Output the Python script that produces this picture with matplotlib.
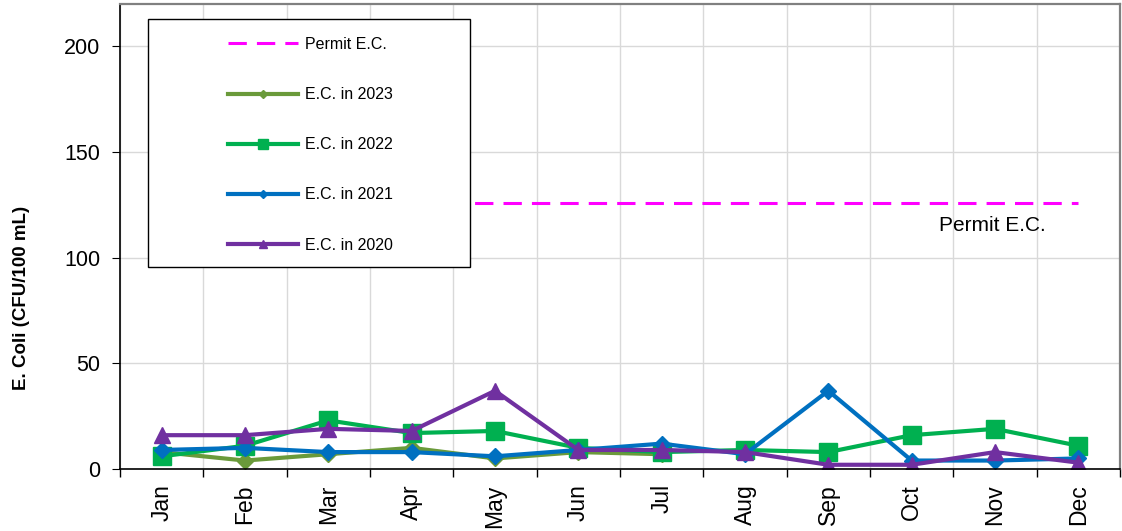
import numpy as np
import matplotlib.pyplot as plt
from matplotlib.patches import Rectangle

plt.rcParams['font.family'] = ['Liberation Sans', 'DejaVu Sans']

months = ['Jan', 'Feb', 'Mar', 'Apr', 'May', 'Jun', 'Jul', 'Aug', 'Sep', 'Oct', 'Nov', 'Dec']
permit = [126] * 12
ec_2023 = [8, 4, 7, 10, 5, 8, 7]
ec_2022 = [6, 11, 23, 17, 18, 10, 8, 9, 8, 16, 19, 11]
ec_2021 = [9, 10, 8, 8, 6, 9, 12, 7, 37, 4, 4, 5]
ec_2020 = [16, 16, 19, 18, 37, 9, 9, 8, 2, 2, 8, 3]

x = np.arange(len(months))

fig = plt.figure(figsize=(11.22, 5.31), dpi=100)
ax = fig.add_axes([120 / 1122, 1 - 469 / 531, 1000 / 1122, 465 / 531])

ax.plot(x, permit, color='#FF00FF', lw=2.2, ls=(0, (6, 3.3)), label='Permit E.C.')
ax.plot(x[:len(ec_2023)], ec_2023, color='#6A9A3A', lw=3, marker='D', ms=8, label='E.C. in 2023')
ax.plot(x, ec_2022, color='#00B050', lw=3, marker='s', ms=13, label='E.C. in 2022')
ax.plot(x, ec_2021, color='#0070C0', lw=3, marker='D', ms=8, label='E.C. in 2021')
ax.plot(x, ec_2020, color='#7030A0', lw=3, marker='^', ms=11, label='E.C. in 2020')

ax.text(9.33, 115, 'Permit E.C.', fontsize=15, ha='left', va='center')

ax.set_xlim(-0.5, 11.5)
ax.set_ylim(0, 220)
ax.set_yticks([0, 50, 100, 150, 200])
ax.set_xticks(x)
ax.set_xticklabels(months, rotation=90, fontsize=16.5)
ax.set_xticks(np.arange(-0.5, 12, 1), minor=True)
ax.tick_params(axis='x', which='major', length=0, pad=11)
ax.tick_params(axis='x', which='minor', length=6, direction='out', width=1)
ax.tick_params(axis='y', labelsize=15.5, length=6, direction='out', pad=8)
ax.grid(True, axis='x', which='minor', color='#D9D9D9', lw=1)
ax.grid(True, axis='y', which='major', color='#D9D9D9', lw=1)
ax.set_axisbelow(True)

for s in ['top', 'right']:
    ax.spines[s].set_color('#808080')
    ax.spines[s].set_linewidth(1.6)
ax.spines['left'].set_linewidth(1.2)
ax.spines['bottom'].set_linewidth(1.2)

ax.set_ylabel('E. Coli (CFU/100 mL)', fontsize=13.5, fontweight='bold')
ax.yaxis.set_label_coords(-0.09, 0.368)

# legend box (drawn separately so the entries can sit off-centre like the original)
box = Rectangle((0.028, 0.434), 0.322, 0.534, transform=ax.transAxes,
                facecolor='white', edgecolor='black', lw=1, zorder=5)
ax.add_patch(box)
leg = ax.legend(loc='upper left', bbox_to_anchor=(0.108, 0.929), fontsize=11.5,
                handlelength=4.4, labelspacing=2.2, borderpad=0, markerscale=0.5,
                frameon=False, borderaxespad=0, handletextpad=0.45)
leg.set_zorder(6)

fig.savefig('out.png', dpi=100)
